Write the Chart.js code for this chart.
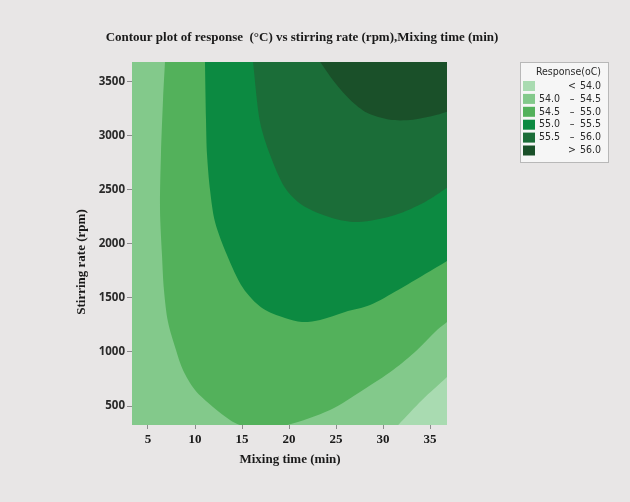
<!DOCTYPE html>
<html>
<head>
<meta charset="utf-8">
<script src="https://cdn.jsdelivr.net/npm/chart.js@4.4.1/dist/chart.umd.min.js"></script>
<style>
  html, body { margin: 0; padding: 0; background: #e8e6e6; }
  #contourChart { display: block; }
</style>
</head>
<body>
<canvas id="contourChart" width="630" height="502"></canvas>
<script>
// Axis ranges and ticks
const xRange = [3.3, 36.8];
const yRange = [325, 3680];
const xTicks = [5, 10, 15, 20, 25, 30, 35];
const yTicks = [500, 1000, 1500, 2000, 2500, 3000, 3500];

// Contour boundaries, [mixing time, stirring rate]
const edge540 = [[30.3, 200], [31.6, 324], [34.15, 556], [36.8, 768], [37.5, 830]];
const edge545 = [[6.88, 3800], [6.81, 3682], [6.6, 3330], [6.38, 2822], [6.28, 2313], [6.49, 1897],
  [6.7, 1573], [7.13, 1277], [7.98, 1018], [8.72, 833], [10.0, 648], [11.91, 491], [13.72, 371],
  [14.79, 324], [16.5, 290], [19.79, 324], [24.36, 463], [27.87, 648], [31.06, 833], [33.62, 1018],
  [35.74, 1203], [36.8, 1277], [37.5, 1326]];
const edge550 = [[11.03, 3800], [11.06, 3682], [11.17, 3146], [11.28, 2822], [11.6, 2498], [12.13, 2202],
  [13.4, 1897], [15.11, 1592], [17.13, 1407], [19.57, 1314], [21.38, 1277], [23.3, 1296], [25.96, 1370],
  [28.62, 1434], [31.6, 1573], [34.47, 1721], [36.8, 1841], [37.5, 1890]];
const edge555 = [[16.01, 3800], [16.17, 3682], [16.91, 3127], [17.98, 2822], [19.57, 2517], [21.38, 2359],
  [24.57, 2239], [27.34, 2202], [31.28, 2267], [34.47, 2387], [36.8, 2517], [37.5, 2560]];
const edge560 = [[22.4, 3800], [23.3, 3682], [24.89, 3488], [26.49, 3331], [28.3, 3210], [30.74, 3146],
  [33.19, 3146], [35.74, 3192], [36.8, 3220], [37.5, 3240]];

// Legend rows
const legendLow = ['', '54.0', '54.5', '55.0', '55.5', ''];
const legendSign = ['<', '–', '–', '–', '–', '>'];
const legendHigh = ['54.0', '54.5', '55.0', '55.5', '56.0', '56.0'];

// Fill colours, palest to darkest
const bandColors = ['#a9dbb1', '#83c98b', '#53b15b', '#0c8a41', '#1b6d38', '#1a5029'];

const SERIF = '"Liberation Serif", "Times New Roman", serif';
const SANS = '"Open Sans", "Noto Sans", sans-serif';
const NARROW = '"Liberation Sans Narrow", "DejaVu Sans Condensed", sans-serif';

let chartInstance;

function toPoints(list) {
  return list.map(p => ({ x: p[0], y: p[1] }));
}

// Close a boundary through a point well outside the plot
function closeOutside(list, corner) {
  return toPoints(list.concat([corner]));
}

function region(points, color, order) {
  return {
    data: points,
    backgroundColor: color,
    borderWidth: 0,
    pointRadius: 0,
    fill: 'shape',
    tension: 0.3,
    order: order
  };
}

// Titles and the level legend
const textLayer = {
  id: 'textLayer',
  afterDraw(chart) {
    const ctx = chart.ctx;
    ctx.save();
    ctx.fillStyle = '#1a1a1a';
    ctx.textBaseline = 'middle';
    ctx.textAlign = 'center';
    ctx.font = 'bold 13px ' + SERIF;
    ctx.fillText('Contour plot of response  (°C) vs stirring rate (rpm),Mixing time (min)', 302, 38);
    ctx.fillText('Mixing time (min)', 290, 460);
    ctx.save();
    ctx.translate(82, 262);
    ctx.rotate(-Math.PI / 2);
    ctx.fillText('Stirring rate (rpm)', 0, 0);
    ctx.restore();

    // legend box
    ctx.fillStyle = '#f6f6f6';
    ctx.fillRect(520, 62, 88, 100);
    ctx.strokeStyle = '#b8b8b8';
    ctx.lineWidth = 1;
    ctx.strokeRect(520.5, 62.5, 88, 100);
    ctx.fillStyle = '#2a2a2a';
    ctx.font = '10.5px ' + NARROW;
    ctx.textAlign = 'right';
    ctx.fillText('Response(oC)', 601, 72);
    legendHigh.forEach((hi, i) => {
      const y = 86 + i * 12.9;
      ctx.fillStyle = bandColors[i];
      ctx.fillRect(523, y - 5, 12, 10);
      ctx.fillStyle = '#2a2a2a';
      ctx.textAlign = 'left';
      ctx.fillText(legendLow[i], 539, y);
      ctx.textAlign = 'center';
      ctx.fillText(legendSign[i], 572, y);
      ctx.textAlign = 'right';
      ctx.fillText(hi, 601, y);
    });
    ctx.restore();
  }
};

document.addEventListener('DOMContentLoaded', () => {
  const ctx = document.getElementById('contourChart').getContext('2d');
  const far = [xRange[1] + 4, yRange[1] + 400];

  const frame = toPoints([[xRange[0], yRange[0]], [xRange[0], yRange[1]], [xRange[1], yRange[1]], [xRange[1], yRange[0]]]);

  chartInstance = new Chart(ctx, {
    type: 'line',
    data: {
      datasets: [
        region(frame, bandColors[1], 10),
        region(closeOutside(edge540, [xRange[1] + 4, 0]), bandColors[0], 9),
        region(closeOutside(edge545, far), bandColors[2], 8),
        region(closeOutside(edge550, far), bandColors[3], 7),
        region(closeOutside(edge555, far), bandColors[4], 6),
        region(closeOutside(edge560, far), bandColors[5], 5)
      ]
    },
    options: {
      responsive: false,
      animation: false,
      events: [],
      layout: { padding: { left: 90, top: 62, right: 183, bottom: 47 } },
      elements: { line: { capBezierPoints: false } },
      plugins: {
        legend: { display: false },
        title: { display: false },
        tooltip: { enabled: false }
      },
      scales: {
        x: {
          type: 'linear',
          min: xRange[0],
          max: xRange[1],
          afterBuildTicks: scale => { scale.ticks = xTicks.map(v => ({ value: v })); },
          afterFit: scale => { scale.height = 30; },
          border: { display: false },
          grid: { drawOnChartArea: false, drawTicks: true, tickLength: 4, color: '#8c8c8c' },
          ticks: { color: '#1a1a1a', padding: 3, maxRotation: 0, callback: v => String(v),
            font: { family: SERIF, size: 13, weight: 'bold' } }
        },
        y: {
          type: 'linear',
          min: yRange[0],
          max: yRange[1],
          afterBuildTicks: scale => { scale.ticks = yTicks.map(v => ({ value: v })); },
          afterFit: scale => { scale.width = 42; },
          border: { display: false },
          grid: { drawOnChartArea: false, drawTicks: true, tickLength: 5, color: '#8c8c8c' },
          ticks: { color: '#2a2a2a', padding: 2, callback: v => String(v),
            font: { family: SANS, size: 11.5, weight: 'bold' } }
        }
      }
    },
    plugins: [textLayer]
  });
});
</script>
</body>
</html>
